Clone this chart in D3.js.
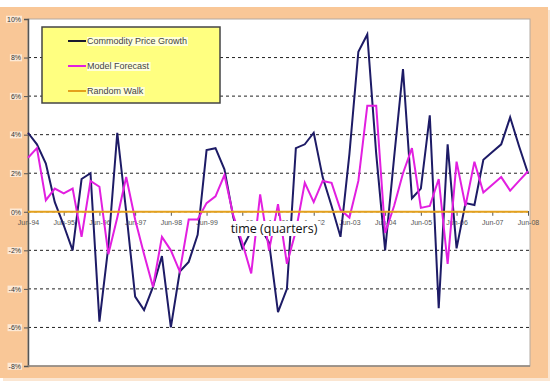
<!DOCTYPE html>
<html>
<head>
<meta charset="utf-8">
<script src="https://cdn.jsdelivr.net/npm/d3@7"></script>
<style>
  body { margin: 0; background: #fff; }
  svg { display: block; }
</style>
</head>
<body>
<div id="chart"></div>
<script>
// quarterly categories, Jun-94 .. Jun-08
const quarters = [
  'Jun-94','Sep-94','Dec-94','Mar-95','Jun-95','Sep-95','Dec-95','Mar-96',
  'Jun-96','Sep-96','Dec-96','Mar-97','Jun-97','Sep-97','Dec-97','Mar-98',
  'Jun-98','Sep-98','Dec-98','Mar-99','Jun-99','Sep-99','Dec-99','Mar-00',
  'Jun-00','Sep-00','Dec-00','Mar-01','Jun-01','Sep-01','Dec-01','Mar-02',
  'Jun-02','Sep-02','Dec-02','Mar-03','Jun-03','Sep-03','Dec-03','Mar-04',
  'Jun-04','Sep-04','Dec-04','Mar-05','Jun-05','Sep-05','Dec-05','Mar-06',
  'Jun-06','Sep-06','Dec-06','Mar-07','Jun-07','Sep-07','Dec-07','Mar-08',
  'Jun-08'
];

// values in %
const commodityGrowth = [
  4.1, 3.5, 2.5, 0.5, -0.7, -2.0, 1.7, 2.0,
  -5.7, -1.8, 4.1, 0.0, -4.4, -5.1, -3.9, -2.3,
  -6.0, -3.1, -2.6, -1.2, 3.2, 3.3, 2.2, -0.3,
  -1.9, -1.0, -0.8, -1.6, -5.2, -4.0, 3.3, 3.5,
  4.1, 1.8, 0.3, -1.3, 3.0, 8.3, 9.2, 3.0,
  -2.0, 2.8, 7.4, 0.7, 1.2, 5.0, -5.0, 3.5,
  -1.9, 0.45, 0.35, 2.7, 3.1, 3.5, 4.9, 3.4,
  2.0
];

const modelForecast = [
  2.8, 3.3, 0.6, 1.2, 0.95, 1.2, -1.3, 1.6,
  1.3, -2.2, -0.3, 1.8, -0.4, -2.2, -3.9, -1.3,
  -2.0, -3.1, -0.4, -0.4, 0.45, 0.8, 1.9, -0.2,
  -1.6, -3.2, 0.9, -2.0, 0.4, -2.7, -1.0, 1.5,
  0.5, 1.6, 1.5, 0.1, -0.3, 1.6, 5.5, 5.5,
  -1.1, 0.3, 2.0, 3.3, 0.2, 0.3, 1.7, -2.7,
  2.6, 0.3, 2.6, 1.0, 1.4, 1.8, 1.1, 1.6,
  2.1
];

const randomWalk = [
  0, 0, 0, 0, 0, 0, 0, 0, 0, 0, 0, 0, 0, 0, 0, 0, 0, 0, 0,
  0, 0, 0, 0, 0, 0, 0, 0, 0, 0, 0, 0, 0, 0, 0, 0, 0, 0, 0,
  0, 0, 0, 0, 0, 0, 0, 0, 0, 0, 0, 0, 0, 0, 0, 0, 0, 0, 0
];

const xTickLabels = ['Jun-94','Jun-95','Jun-96','Jun-97','Jun-98','Jun-99','Jun-00',
  'Jun-01','Jun-02','Jun-03','Jun-04','Jun-05','Jun-06','Jun-07','Jun-08'];
const yTicks = [10, 8, 6, 4, 2, 0, -2, -4, -6, -8];
const seriesNames = ['Commodity Price Growth', 'Model Forecast', 'Random Walk'];
const seriesColors = ['#1d1b66', '#e21fe0', '#e4a11c'];
const axisTitle = 'time (quarters)';

const width = 550;
const height = 386;
const plot = { left: 28, right: 530, top: 19, bottom: 366 };
const tickFont = '"Liberation Sans", Arial, sans-serif';

const svg = d3.select('#chart').append('svg')
    .attr('width', width)
    .attr('height', height);

const x = d3.scalePoint()
    .domain(quarters)
    .range([plot.left, plot.right - 2]);

const y = d3.scaleLinear()
    .domain([-8, 10])
    .range([plot.bottom, plot.top]);

drawFrame();
drawGrid();
drawSeries();
drawAxisTitle();
drawLegend();

function drawFrame() {
  // peach chart area with soft shadow
  svg.append('rect')
      .attr('x', 3).attr('y', 10)
      .attr('width', 547).attr('height', 371)
      .attr('fill', '#fbe6d2');
  svg.append('rect')
      .attr('x', 0).attr('y', 7)
      .attr('width', 548).attr('height', 371)
      .attr('fill', '#f9c797');

  // plot area
  svg.append('rect')
      .attr('x', plot.left).attr('y', plot.top)
      .attr('width', plot.right - plot.left)
      .attr('height', plot.bottom - plot.top)
      .attr('fill', '#fff')
      .attr('stroke', '#b3aaa2')
      .attr('stroke-width', 1);
}

function drawGrid() {
  // dashed gridlines
  svg.append('g')
      .selectAll('line')
      .data(yTicks.filter(d => d !== 10 && d !== -8))
      .join('line')
      .attr('x1', plot.left).attr('x2', plot.right)
      .attr('y1', d => y(d)).attr('y2', d => y(d))
      .attr('stroke', '#222')
      .attr('stroke-width', 1)
      .attr('stroke-dasharray', '3,3');

  // y axis
  const yAxis = d3.axisLeft(y)
      .tickValues(yTicks)
      .tickSize(4)
      .tickFormat(d => d + '%');
  const gy = svg.append('g')
      .attr('transform', `translate(${plot.left},0)`)
      .call(yAxis);
  gy.select('.domain').attr('stroke', '#555').attr('stroke-width', 1.5);
  gy.selectAll('.tick line').attr('stroke', '#555');
  gy.selectAll('.tick text')
      .attr('x', -7)
      .attr('fill', '#333')
      .style('font-family', tickFont)
      .style('font-size', '7px');
  gy.selectAll('.tick').each(function() {
    const t = d3.select(this);
    const bb = t.select('text').node().getBBox();
    t.insert('rect', 'text')
        .attr('x', bb.x - 1).attr('y', bb.y)
        .attr('width', bb.width + 2).attr('height', bb.height)
        .attr('fill', '#fff')
        .attr('opacity', 0.6);
  });

  // bottom axis line
  svg.append('line')
      .attr('x1', plot.left).attr('x2', plot.right)
      .attr('y1', plot.bottom).attr('y2', plot.bottom)
      .attr('stroke', '#8c847c')
      .attr('stroke-width', 1.5);

  // category axis on the zero line
  const xAxis = d3.axisBottom(x)
      .tickValues(xTickLabels)
      .tickSize(4)
      .tickPadding(4);
  const gx = svg.append('g')
      .attr('transform', `translate(0,${y(0)})`)
      .call(xAxis);
  gx.select('.domain').remove();
  gx.selectAll('.tick line').attr('stroke', '#555');
  gx.selectAll('.tick text')
      .attr('fill', '#555')
      .style('font-family', tickFont)
      .style('font-size', '7px');
}

function drawSeries() {
  const line = d3.line()
      .x((d, i) => x(quarters[i]))
      .y(d => y(d));

  [commodityGrowth, modelForecast, randomWalk].forEach((values, k) => {
    svg.append('path')
        .datum(values)
        .attr('d', line)
        .attr('fill', 'none')
        .attr('stroke', seriesColors[k])
        .attr('stroke-width', k === 2 ? 2 : 2)
        .attr('stroke-linejoin', 'miter');
  });
}

function drawAxisTitle() {
  const cx = 274;
  const cy = 233;
  const title = svg.append('g');
  const label = title.append('text')
      .text(axisTitle)
      .attr('x', cx)
      .attr('y', cy)
      .attr('text-anchor', 'middle')
      .attr('fill', '#111')
      .style('font-family', '"Open Sans", sans-serif')
      .style('font-size', '12.5px');
  const bb = label.node().getBBox();
  title.insert('rect', 'text')
      .attr('x', bb.x - 3).attr('y', bb.y + 1)
      .attr('width', bb.width + 6).attr('height', bb.height - 2)
      .attr('fill', '#fff');
}

function drawLegend() {
  const lg = svg.append('g');
  lg.append('rect')
      .attr('x', 42).attr('y', 27)
      .attr('width', 178).attr('height', 76)
      .attr('fill', '#ffff80')
      .attr('stroke', '#444')
      .attr('stroke-width', 1.5);

  const rows = [41, 66, 91];
  seriesNames.forEach((name, k) => {
    lg.append('line')
        .attr('x1', 68).attr('x2', 86)
        .attr('y1', rows[k]).attr('y2', rows[k])
        .attr('stroke', k === 0 ? '#1a1a2e' : seriesColors[k])
        .attr('stroke-width', 2);
    const t = lg.append('text')
        .text(name)
        .attr('x', 87)
        .attr('y', rows[k] + 3)
        .attr('fill', '#444')
        .style('font-family', tickFont)
        .style('font-size', '9px');
    const bb = t.node().getBBox();
    lg.insert('rect', 'text:last-of-type')
        .attr('x', bb.x).attr('y', bb.y + 1)
        .attr('width', bb.width + 1).attr('height', bb.height - 1)
        .attr('fill', '#fffff0')
        .attr('opacity', 0.8);
  });
}
</script>
</body>
</html>
